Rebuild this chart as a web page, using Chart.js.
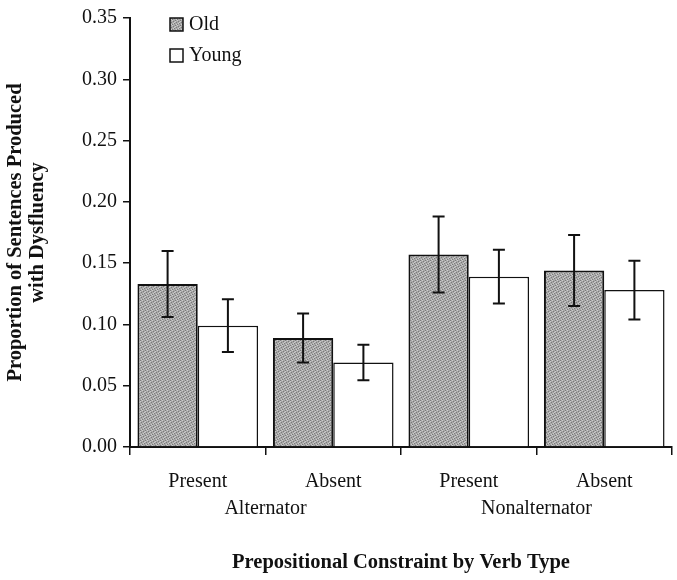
<!DOCTYPE html>
<html>
<head>
<meta charset="utf-8">
<script src="https://cdn.jsdelivr.net/npm/chart.js@4/dist/chart.umd.min.js"></script>
<style>
  html, body { margin: 0; padding: 0; background: #fff; }
  #wrap { width: 677px; height: 580px; position: relative; }
</style>
</head>
<body>
<div id="wrap"><canvas id="chart" width="677" height="580"></canvas></div>
<script>
const categories = ['Present', 'Absent', 'Present', 'Absent'];
const groups = ['Alternator', 'Nonalternator'];
const oldValues = [0.133, 0.089, 0.157, 0.144];
const youngValues = [0.099, 0.069, 0.139, 0.128];
const oldErrors = [0.027, 0.020, 0.031, 0.029];
const youngErrors = [0.0215, 0.0145, 0.022, 0.024];
const seriesNames = ['Old', 'Young'];

// speckled grey fill like the scanned original
function makeSpeckle() {
  const c = document.createElement('canvas');
  c.width = 5; c.height = 5;
  const g = c.getContext('2d');
  g.fillStyle = '#a8a8a8';
  g.fillRect(0, 0, 5, 5);
  const dark = [[0, 0], [3, 1], [1, 2], [4, 3], [2, 4]];
  const light = [[2, 0], [0, 1], [4, 2], [1, 4], [3, 3]];
  g.fillStyle = '#7a7a7a';
  dark.forEach(([x, y]) => g.fillRect(x, y, 1, 1));
  g.fillStyle = '#cccccc';
  light.forEach(([x, y]) => g.fillRect(x, y, 1, 1));
  return g.createPattern(c, 'repeat');
}

const errorBars = {
  id: 'errorBars',
  afterDatasetsDraw(chart) {
    const ctx = chart.ctx;
    const y = chart.scales.y;
    const errs = [oldErrors, youngErrors];
    ctx.save();
    ctx.strokeStyle = '#111';
    ctx.lineWidth = 2;
    chart.data.datasets.forEach((ds, di) => {
      chart.getDatasetMeta(di).data.forEach((bar, i) => {
        const top = y.getPixelForValue(ds.data[i] + errs[di][i]);
        const bot = y.getPixelForValue(ds.data[i] - errs[di][i]);
        ctx.beginPath();
        ctx.moveTo(bar.x, top); ctx.lineTo(bar.x, bot);
        ctx.moveTo(bar.x - 6, top); ctx.lineTo(bar.x + 6, top);
        ctx.moveTo(bar.x - 6, bot); ctx.lineTo(bar.x + 6, bot);
        ctx.stroke();
      });
    });
    ctx.restore();
  }
};

const innerLegend = {
  id: 'innerLegend',
  afterDraw(chart) {
    const ctx = chart.ctx;
    ctx.save();
    ctx.font = '20px "Liberation Serif"';
    ctx.textBaseline = 'middle';
    chart.data.datasets.forEach((ds, i) => {
      const top = 18 + i * 31;
      ctx.fillStyle = ds.backgroundColor;
      ctx.fillRect(170, top, 13, 13);
      ctx.strokeStyle = '#111';
      ctx.lineWidth = 1.5;
      ctx.strokeRect(170, top, 13, 13);
      ctx.fillStyle = '#111';
      ctx.fillText(ds.label, 189, top + 7);
    });
    ctx.restore();
  }
};

const ctx = document.getElementById('chart').getContext('2d');
const speckle = makeSpeckle();

new Chart(ctx, {
  type: 'bar',
  data: {
    labels: categories,
    datasets: [
      {
        label: seriesNames[0],
        data: oldValues,
        backgroundColor: speckle,
        borderColor: '#111',
        borderWidth: 2,
        barPercentage: 1,
        categoryPercentage: 0.89
      },
      {
        label: seriesNames[1],
        data: youngValues,
        backgroundColor: '#ffffff',
        borderColor: '#111',
        borderWidth: 1.5,
        barPercentage: 1,
        categoryPercentage: 0.89
      }
    ]
  },
  options: {
    responsive: false,
    animation: false,
    layout: { padding: { top: 13, right: 5, left: 0, bottom: 0 } },
    plugins: {
      legend: { display: false },
      tooltip: { enabled: false }
    },
    scales: {
      x: {
        type: 'category',
        position: 'bottom',
        grid: { offset: true, drawOnChartArea: false, tickLength: 8, color: '#111', lineWidth: 1.5 },
        border: { display: true, color: '#111', width: 2 },
        ticks: { color: '#111', padding: 15, font: { family: 'Liberation Serif', size: 20 } },
        afterFit(scale) { scale.height = 47; }
      },
      x2: {
        type: 'category',
        labels: groups,
        position: 'bottom',
        grid: { display: false, drawTicks: false },
        border: { display: false },
        ticks: { color: '#111', padding: 3, font: { family: 'Liberation Serif', size: 20 } },
        title: {
          display: true,
          text: 'Prepositional Constraint by Verb Type',
          color: '#111',
          font: { family: 'Liberation Serif', size: 20.5, weight: 'bold' },
          padding: { top: 0, bottom: 5 }
        },
        afterFit(scale) { scale.height = 86; }
      },
      y: {
        min: 0,
        max: 0.35,
        grid: { drawOnChartArea: false, tickLength: 7, color: '#111', lineWidth: 1.5 },
        border: { display: true, color: '#111', width: 2 },
        ticks: {
          stepSize: 0.05,
          color: '#111',
          padding: 6,
          font: { family: 'Liberation Serif', size: 20 },
          callback: (v) => v.toFixed(2)
        },
        title: {
          display: true,
          text: ['Proportion of Sentences Produced', 'with Dysfluency'],
          color: '#111',
          font: { family: 'Liberation Serif', size: 20.5, weight: 'bold', lineHeight: 1.1 },
          padding: { top: 4, bottom: 0 }
        },
        afterFit(scale) { scale.width = 130; }
      }
    }
  },
  plugins: [errorBars, innerLegend]
});
</script>
</body>
</html>
